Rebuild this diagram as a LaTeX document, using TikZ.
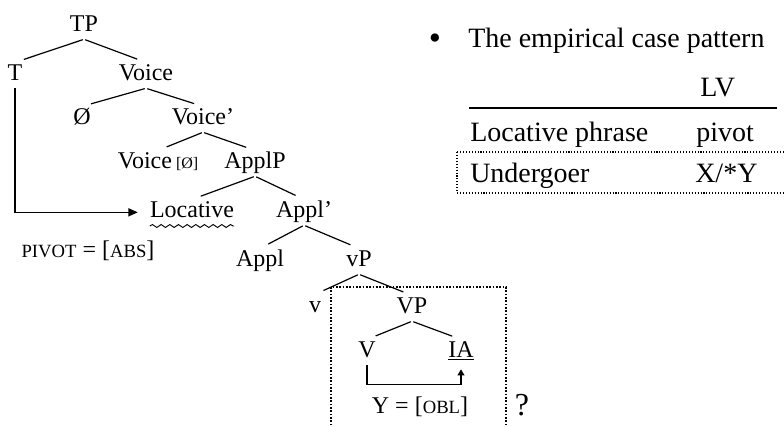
\documentclass[tikz,border=0pt]{standalone}
\usepackage{fontspec}
\newfontfamily\treefont{Liberation Serif}
\usepackage{tikz}
\usetikzlibrary{arrows.meta, decorations.pathmorphing}

\newcommand{\smc}[1]{{\fontsize{14}{16}\selectfont #1}}

\tikzset{
  cat/.style={anchor=base, inner sep=2pt, text height=11pt, text depth=4pt,
    font={\treefont\fontsize{18}{21}\selectfont}},
  txt/.style={anchor=base west, inner sep=0pt, font={\treefont\fontsize{21}{25}\selectfont}},
  branch/.style={line width=0.9pt, shorten <=1pt, shorten >=7pt},
  move/.style={line width=1.1pt, -{Triangle[length=7pt,width=6pt]}, shorten >=7pt},
  lift/.style={line width=1.1pt, -{Triangle[length=4.5pt,width=5pt]}, shorten >=3pt},
  wave/.style={line width=0.7pt, decorate, decoration={snake, amplitude=1.1pt, segment length=6.5pt}},
  frame/.style={line width=1.2pt, dash pattern=on 1.2pt off 1.3pt},
  tabdots/.style={line width=0.8pt, dash pattern=on 0.8pt off 1.4pt}
}

\begin{document}
\begin{tikzpicture}[x=0.75pt, y=-0.75pt]
\useasboundingbox (0,0) rectangle (784,426);

% tree
\node[cat] (TP) at (84,31) {TP};
\node[cat] (T) at (15,80) {T};
\node[cat] (Voice) at (146,80) {Voice};
\node[cat] (null) at (82,124) {Ø};
\node[cat] (Voicebar) at (203,124) {Voice’};
\node[cat] (VoiceHead) at (158,168) {Voice\,{\fontsize{12}{14}\selectfont[Ø]}};
\node[cat] (ApplP) at (255,168) {ApplP};
\node[cat] (Loc) at (192,217) {Locative};
\node[cat] (Applbar) at (304,217) {Appl’};
\node[cat] (Appl) at (260,266) {Appl};
\node[cat] (vP) at (359,266) {vP};
\node[cat] (v) at (315,312) {v};
\node[cat] (VP) at (412,313) {VP};
\node[cat] (V) at (367,357) {V};
\node[cat] (IA) at (461,357) {\underline{IA}};

\node[cat] (pivot) at (88,257) {\smc{PIVOT} = [\smc{ABS}]};
\node[cat] (obl) at (420,413) {Y = [\smc{OBL}]};
\node[cat, font={\treefont\fontsize{24}{28}\selectfont}] (qmark) at (522,415) {?};

\path[branch]
(TP.south) edge (T.north)
(TP.south) edge (Voice.north)
(Voice.south) edge (null.north)
(Voice.south) edge (Voicebar.north)
(Voicebar.south) edge (VoiceHead.north)
(Voicebar.south) edge (ApplP.north)
(ApplP.south) edge (Loc.north)
(ApplP.south) edge (Applbar.north)
(Applbar.south) edge (Appl.north)
(Applbar.south) edge (vP.north)
(vP.south) edge (v.north)
(vP.south) edge (VP.north)
(VP.south) edge (V.north)
(VP.south) edge (IA.north)
;

\draw[wave] ([xshift=2pt,yshift=-6.75pt]Loc.base west) -- ([xshift=-2pt,yshift=-6.75pt]Loc.base east);
\draw[move] (T.south) |- (Loc.west);
\draw[lift] (V.south) -- ++(0,19) -| (IA.south);
\draw[frame] (331,432) |- (506,287) -- (506,432);

% case table
\node[anchor=base, inner sep=0pt, font={\treefont\fontsize{26}{28}\selectfont}] (bullet) at (435,49) {•};
\node[txt] (intro) at (468,47) {The empirical case pattern};
\node[txt] (lv) at (700,96) {LV};
\draw[line width=1.1pt] (469,108) -- (777,108);
\node[txt] (locrow) at (470,141) {Locative phrase};
\node[txt] (pivotcell) at (696,141) {pivot};
\node[txt] (ugrow) at (470,182) {Undergoer};
\node[txt] (xycell) at (695,182) {X/*Y};
\draw[tabdots] (457,152) rectangle (792,193);

\end{tikzpicture}
\end{document}
